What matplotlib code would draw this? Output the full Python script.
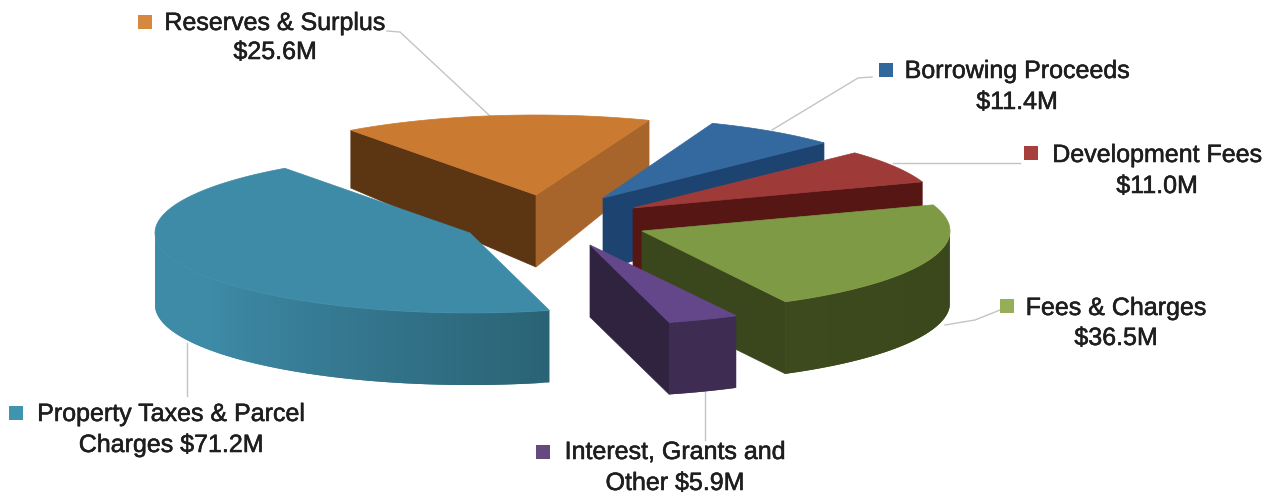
import numpy as np
import matplotlib
matplotlib.use('Agg')
import matplotlib.pyplot as plt
import matplotlib.patheffects as pe
from matplotlib.colors import to_rgb

# revenue sources in $M, clockwise from the back left of the pie
names = ['Reserves & Surplus', 'Borrowing Proceeds', 'Development Fees',
         'Fees & Charges', 'Interest, Grants and Other', 'Property Taxes & Parcel Charges']
values = [25.6, 11.4, 11.0, 36.5, 5.9, 71.2]
label_lines = [
    ['Reserves & Surplus', '${:.1f}M'],
    ['Borrowing Proceeds', '${:.1f}M'],
    ['Development Fees', '${:.1f}M'],
    ['Fees & Charges', '${:.1f}M'],
    ['Interest, Grants and', 'Other ${:.1f}M'],
    ['Property Taxes & Parcel', 'Charges ${:.1f}M'],
]

top_colors = ['#CA7B31', '#33699E', '#9E3B38', '#7F9A45', '#64478A', '#3E8BA8']
key_colors = ['#D6883F', '#33689C', '#A5403C', '#96AE58', '#65497F', '#3F94B0']
start_face = ['#5C3513', None, None, None, None, None]
end_face = ['#A8652B', '#1D4470', '#551614', '#3A471C', '#2F2340', None]
rim_dark = ['#A8652B', '#1D4470', '#551614', '#3A471C', '#3E2C52', '#2A6375']
rim_light = ['#A8652B', '#1D4470', '#551614', '#3C4A1D', '#3E2C52', '#3E8BA8']

# slice layout in pixels
tips = [(536, 195), (603, 198), (633, 208), (642, 231), (590, 245), (470, 233)]
radius_x = [315, 305, 306, 308, 314, 315]
radius_y = 80
start_angle = -36.0
draw_order = [0, 1, 2, 3, 5, 4]

label_pos = [(275, 23, 52), (1017, 71, 102), (1157, 155, 186),
             (1116, 308, 338), (675, 452, 483), (171, 414, 445)]
key_pos = [(145, 22), (886, 70), (1031, 153), (1007, 306), (543, 452), (16, 413)]
leaders = [
    [(387, 31), (400, 32), (490, 116)],
    [(872, 77), (858, 78), (772, 130)],
    [(1020, 163), (893, 163)],
    [(1000, 310), (975, 320), (945, 325)],
    [(705, 440), (705, 392)],
    [(187, 396), (187, 343)],
]


def depth_at(y):
    # the far side of the pie is foreshortened
    return np.clip(72 - 0.22 * (195 - np.asarray(y, dtype=float)), 40, 72)


def rim_point(i, angle):
    a = np.radians(angle)
    return tips[i][0] + radius_x[i] * np.sin(a), tips[i][1] - radius_y * np.cos(a)


def extrude(xs, ys):
    xs, ys = np.asarray(xs, dtype=float), np.asarray(ys, dtype=float)
    return np.r_[xs, xs[::-1]], np.r_[ys, (ys + depth_at(ys))[::-1]]


def mix(c1, c2, t):
    c1, c2 = np.array(to_rgb(c1)), np.array(to_rgb(c2))
    return tuple(c1 + (c2 - c1) * t)


fig = plt.figure(figsize=(12.73, 4.98), dpi=100)
ax = fig.add_axes([0, 0, 1, 1])
ax.set_xlim(0, 1273)
ax.set_ylim(498, 0)
ax.axis('off')
plt.rcParams['font.family'] = ['Liberation Sans', 'DejaVu Sans']

for pts in leaders:
    ax.plot(*zip(*pts), color='#C4C4C4', lw=1.0, zorder=1)

spans = np.array(values) / sum(values) * 360
starts = start_angle + np.r_[0, np.cumsum(spans)[:-1]]

z = 2
for i in draw_order:
    t0, t1 = starts[i], starts[i] + spans[i]
    tx, ty = tips[i]

    # radial cut faces that turn towards the viewer
    for angle, normal, face in [(t0, t0 - 90, start_face[i]), (t1, t1 + 90, end_face[i])]:
        if face is None or np.cos(np.radians(normal)) >= 0:
            continue
        px, py = rim_point(i, angle)
        xs, ys = extrude([tx, px], [ty, py])
        ax.fill(xs, ys, color=face, lw=0.5, zorder=z)

    # front part of the outer rim, shaded in overlapping strips so no seams show
    lo, hi = max(t0, 90), min(t1, 270)
    if lo < hi:
        grid = np.linspace(lo, hi, 60)
        for n, a0 in enumerate(grid[:-1]):
            a1 = grid[min(n + 2, len(grid) - 1)]
            strip = np.linspace(a0, a1, 4)
            xs, ys = extrude(*rim_point(i, strip))
            fade = np.clip((a0 - lo) / 70, 0, 1) if i == 5 else (a0 - lo) / (hi - lo)
            ax.fill(xs, ys, color=mix(rim_dark[i], rim_light[i], fade), lw=0, zorder=z)

    # top surface
    grid = np.linspace(t0, t1, 120)
    px, py = rim_point(i, grid)
    ax.fill(np.r_[tx, px], np.r_[ty, py], color=top_colors[i], lw=0.5, zorder=z + 1)
    z += 2

for i, lines in enumerate(label_lines):
    cx, y1, y2 = label_pos[i]
    for line, y in zip(lines, (y1, y2)):
        ax.text(cx, y, line.format(values[i]), ha='center', va='center',
                fontsize=18, color='#1E1E1E', zorder=30,
                path_effects=[pe.withStroke(linewidth=0.4, foreground='#1E1E1E')])
    ax.plot(*key_pos[i], marker='s', ms=9.5, color=key_colors[i], mew=0, zorder=30)

fig.savefig('out.png', dpi=100)
